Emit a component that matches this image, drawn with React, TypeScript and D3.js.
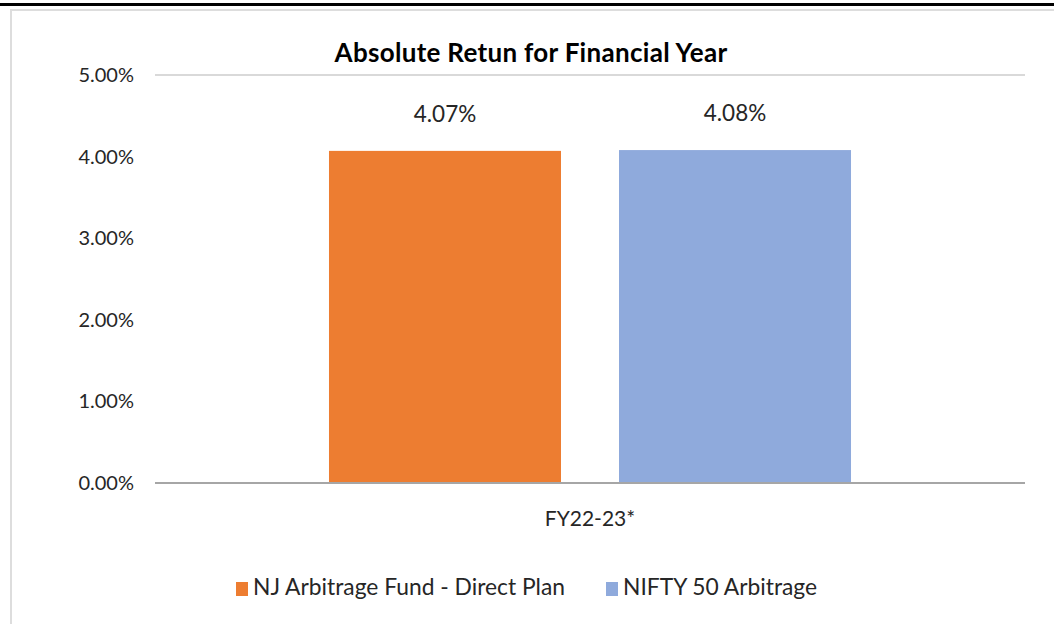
import React from "react";
import * as d3 from "d3";

const categories = ["FY22-23*"];
const seriesNames = ["NJ Arbitrage Fund - Direct Plan", "NIFTY 50 Arbitrage"];
const seriesValues = [4.07, 4.08];
const seriesColors = ["#ED7D31", "#8FAADC"];
const yTicks = [0, 1, 2, 3, 4, 5];

const W = 1054, H = 624;
const FONT = "Lato, 'Open Sans', sans-serif";

export default function App() {
  const left = 155, right = 1025, top = 75, bottom = 483;
  const y = d3.scaleLinear().domain([0, 5]).range([bottom, top]);
  const x0 = d3.scaleBand().domain(categories).range([left, right]).paddingInner(0).paddingOuter(0.3333);
  const x1 = d3.scaleBand().domain(seriesNames).range([0, x0.bandwidth()]).paddingInner(0.2);
  const fmt = (v: number) => v.toFixed(2) + "%";
  const legendX = [236, 606];
  return (
    <div style={{ position: "absolute", left: 0, top: 0, width: W, height: H, background: "#fff" }}>
      <svg width={W} height={H} style={{ display: "block" }}>
        <rect x={0} y={0} width={W} height={H} fill="#fff" />
        <rect x={0} y={3} width={W} height={3} fill="#000" />
        <rect x={11} y={10} width={W + 20} height={H + 20} fill="none" stroke="#DDDDDD" strokeWidth={2} />
        <text x={531} y={62} textAnchor="middle" fontFamily={FONT} fontWeight="bold" fontSize={26} letterSpacing={0.3} fill="#000">
          Absolute Retun for Financial Year
        </text>
        {yTicks.map((t) => (
          <g key={t}>
            {t === yTicks[yTicks.length - 1] && (
              <line x1={left} x2={right} y1={y(t)} y2={y(t)} stroke="#D9D9D9" strokeWidth={2} />
            )}
            <text x={134} y={y(t) + 7} textAnchor="end" fontFamily={FONT} fontSize={20} fill="#262626">
              {fmt(t)}
            </text>
          </g>
        ))}
        {categories.map((c) => (
          <g key={c} transform={`translate(${x0(c)},0)`}>
            {seriesNames.map((s, i) => (
              <g key={s}>
                <rect
                  x={x1(s)!}
                  y={y(seriesValues[i])}
                  width={x1.bandwidth()}
                  height={bottom - y(seriesValues[i])}
                  fill={seriesColors[i]}
                />
                <text
                  x={x1(s)! + x1.bandwidth() / 2}
                  y={y(seriesValues[i]) - 29}
                  textAnchor="middle"
                  fontFamily={FONT}
                  fontSize={22.5}
                  fill="#262626"
                >
                  {fmt(seriesValues[i])}
                </text>
              </g>
            ))}
            <text x={x0.bandwidth() / 2} y={526} textAnchor="middle" fontFamily={FONT} fontSize={21} fill="#262626">
              {c}
            </text>
          </g>
        ))}
        <line x1={left} x2={right} y1={bottom} y2={bottom} stroke="#A6A6A6" strokeWidth={2} />
        {seriesNames.map((s, i) => (
          <g key={s}>
            <rect x={legendX[i]} y={582} width={12} height={14} fill={seriesColors[i]} />
            <text x={legendX[i] + 17} y={595} fontFamily={FONT} fontSize={22.8} fill="#262626">
              {s}
            </text>
          </g>
        ))}
      </svg>
    </div>
  );
}
